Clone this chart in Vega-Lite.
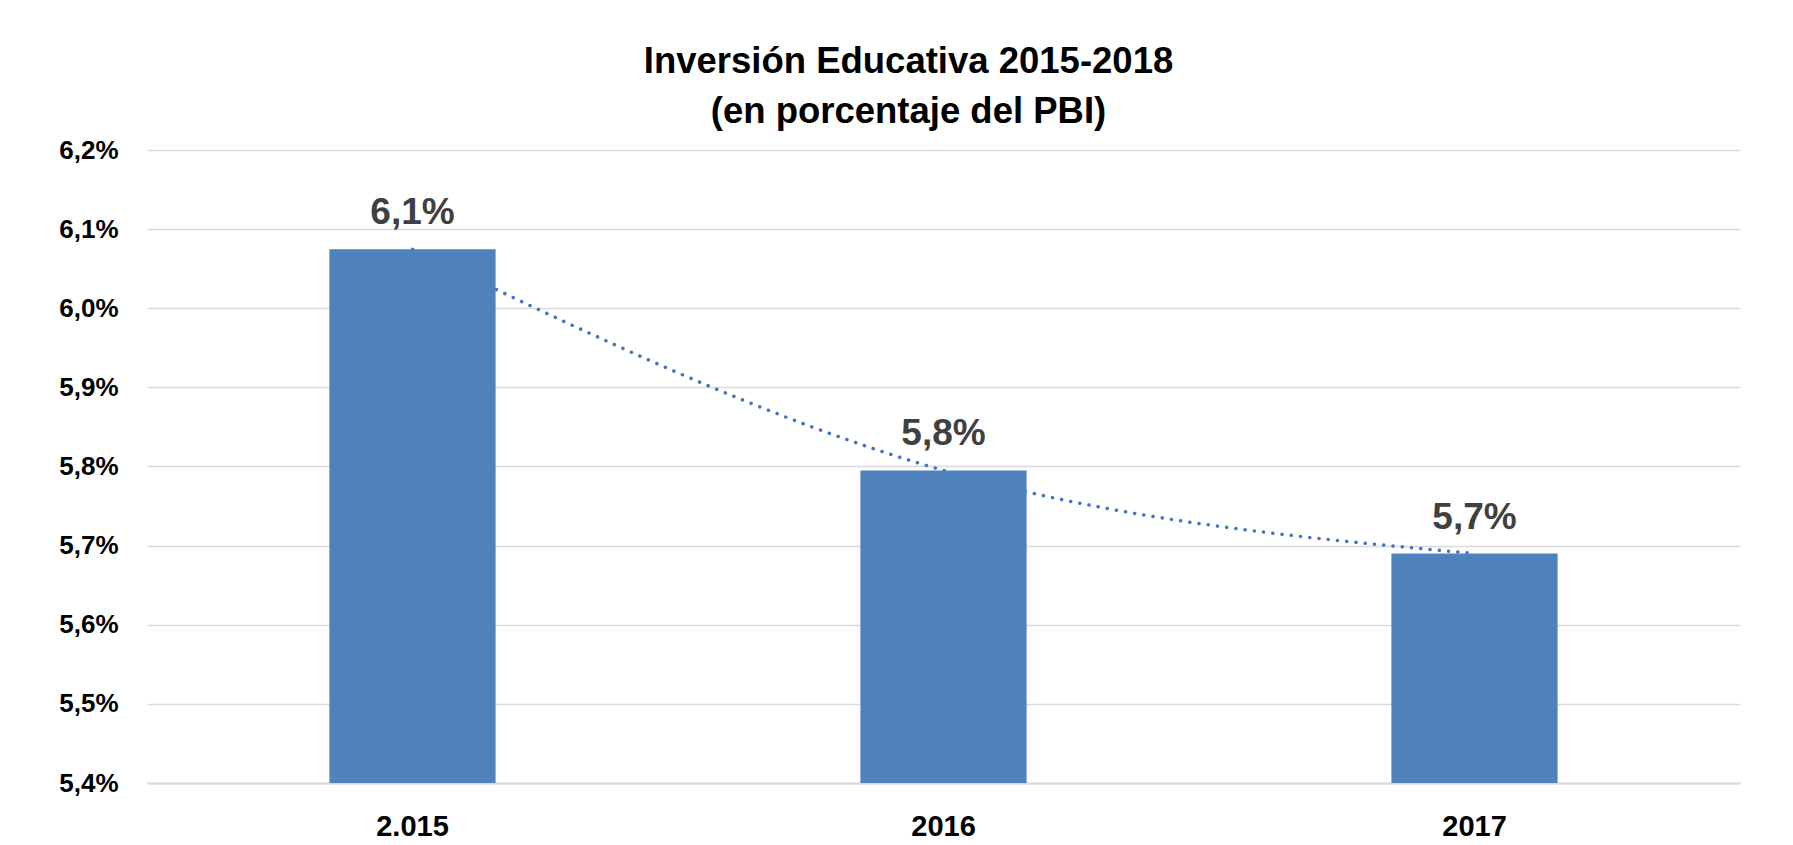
{
  "$schema": "https://vega.github.io/schema/vega-lite/v6.json",
  "width": 1593,
  "height": 633,
  "autosize": {"type": "none"},
  "padding": {"left": 147, "top": 150, "right": 53, "bottom": 62},
  "background": "white",
  "title": {
    "text": ["Inversión Educativa 2015-2018", "(en porcentaje del PBI)"],
    "font": "Liberation Sans",
    "fontWeight": "bold",
    "fontSize": 36.5,
    "lineHeight": 50,
    "color": "#000000",
    "anchor": "middle",
    "dx": -35,
    "offset": 7
  },
  "data": {
    "values": [
      {"year": "2.015", "value": 0.060745},
      {"year": "2016", "value": 0.05795},
      {"year": "2017", "value": 0.0569}
    ]
  },
  "encoding": {
    "x": {
      "field": "year",
      "type": "nominal",
      "sort": null,
      "scale": {"paddingInner": 0.687, "paddingOuter": 0.3435},
      "axis": {
        "title": null,
        "labelAngle": 0,
        "labelFont": "Liberation Sans",
        "labelFontWeight": "bold",
        "labelFontSize": 29,
        "labelColor": "#000000",
        "labelBaseline": "alphabetic",
        "labelPadding": 52,
        "ticks": false,
        "tickSize": 0,
        "domain": true,
        "domainColor": "#d9d9d9",
        "domainWidth": 2
      }
    },
    "y": {
      "field": "value",
      "type": "quantitative",
      "scale": {"domain": [0.054, 0.062], "zero": false, "nice": false},
      "axis": {
        "title": null,
        "values": [0.054, 0.055, 0.056, 0.057, 0.058, 0.059, 0.06, 0.061, 0.062],
        "format": ".1%",
        "labelFont": "Liberation Sans",
        "labelFontWeight": "bold",
        "labelFontSize": 26,
        "labelColor": "#000000",
        "labelPadding": 29,
        "ticks": false,
        "tickSize": 0,
        "domain": false,
        "grid": true,
        "gridColor": "#d9d9d9",
        "gridWidth": 1.5
      }
    }
  },
  "layer": [
    {
      "mark": {
        "type": "line",
        "interpolate": "natural",
        "color": "#4472C4",
        "strokeWidth": 3.5,
        "strokeDash": [0.1, 9.2],
        "strokeCap": "round"
      }
    },
    {
      "mark": {"type": "bar", "color": "#4F81BD", "clip": true}
    },
    {
      "mark": {
        "type": "text",
        "font": "Liberation Sans",
        "fontWeight": "bold",
        "fontSize": 37,
        "color": "#404040",
        "baseline": "alphabetic",
        "dy": -25
      },
      "encoding": {
        "text": {"field": "value", "type": "quantitative", "format": ".1%"}
      }
    }
  ],
  "config": {
    "locale": {
      "number": {"decimal": ",", "thousands": ".", "grouping": [3], "currency": ["$", ""]}
    },
    "view": {"stroke": null}
  }
}
